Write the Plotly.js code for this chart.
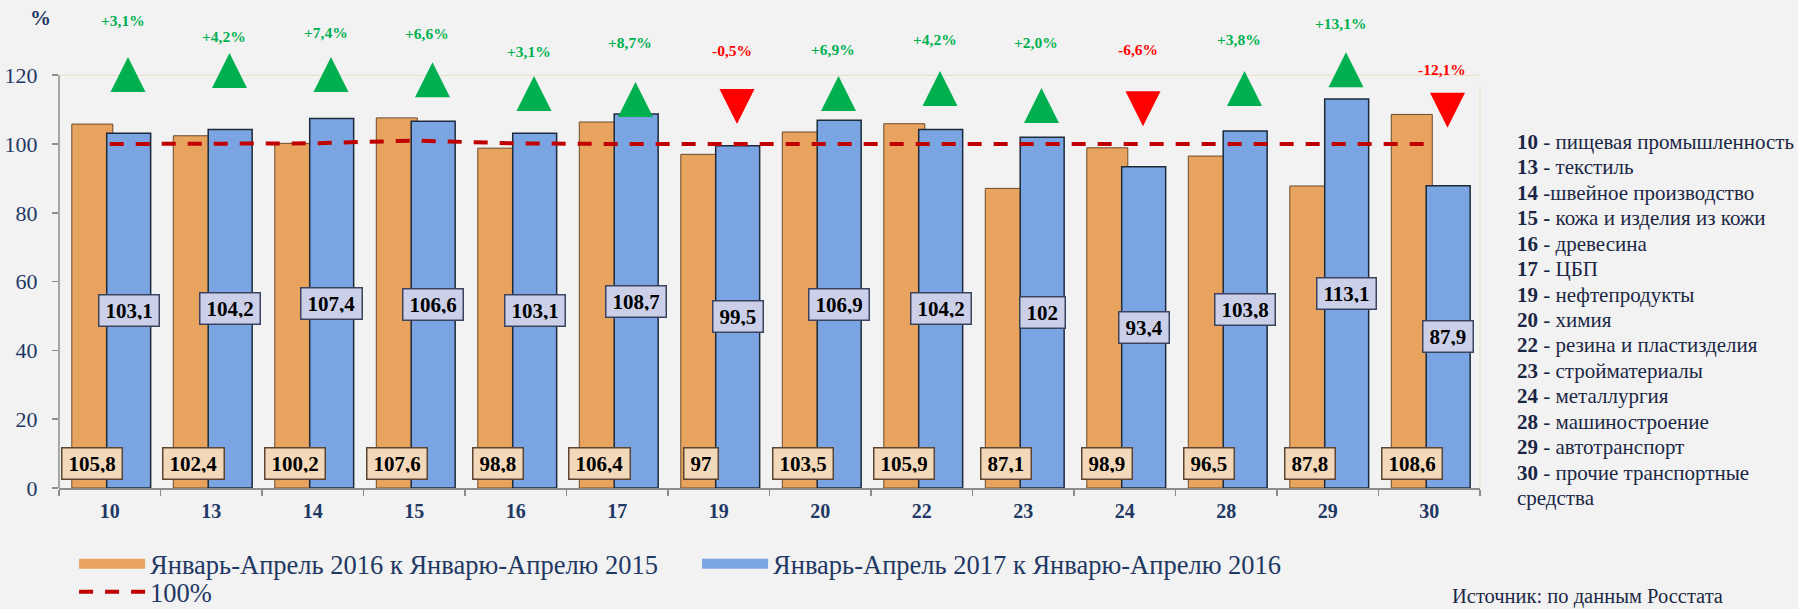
<!DOCTYPE html>
<html>
<head>
<meta charset="utf-8">
<script src="https://cdn.plot.ly/plotly-3.0.1.min.js"></script>
<style>
body{margin:0;background:#f2f2f2;}
#grafica{width:1798px;height:609px;}
</style>
</head>
<body>
<div id="grafica"></div>
<script>
// коды отраслей
const codes = ['10','13','14','15','16','17','19','20','22','23','24','28','29','30'];

// Январь-Апрель 2016 к Январю-Апрелю 2015, %
const y2016 = [105.8,102.4,100.2,107.6,98.8,106.4,97,103.5,105.9,87.1,98.9,96.5,87.8,108.6];

// Январь-Апрель 2017 к Январю-Апрелю 2016, %
const y2017 = [103.1,104.2,107.4,106.6,103.1,108.7,99.5,106.9,104.2,102,93.4,103.8,113.1,87.9];

// изменение, п.п.
const change = [3.1,4.2,7.4,6.6,3.1,8.7,-0.5,6.9,4.2,2.0,-6.6,3.8,13.1,-12.1];

// линия 100%
const base100 = [100,100,100.2,101,100.2,100,100,100,100,100,100,100,100,100];

// уровни стрелок и подписей (как на картинке)
const arrowLevel = [125.3,126.5,125.3,123.8,119.8,118.0,105.8,119.8,121.2,116.3,105.2,121.2,126.7,104.7];
const labelLevel = [136.0,131.3,132.5,132.0,126.8,129.6,127.1,127.6,130.5,129.6,127.6,130.5,134.9,121.7];

const descr = [
    '<b>10</b> - пищевая промышленность',
    '<b>13</b> - текстиль',
    '<b>14</b> -швейное производство',
    '<b>15 -</b> кожа и изделия из кожи',
    '<b>16</b> - древесина',
    '<b>17</b> - ЦБП',
    '<b>19</b> - нефтепродукты',
    '<b>20</b> - химия',
    '<b>22</b> - резина и пластизделия',
    '<b>23</b> - стройматериалы',
    '<b>24</b> - металлургия',
    '<b>28</b> - машиностроение',
    '<b>29</b> - автотранспорт',
    '<b>30</b> - прочие транспортные',
    'средства'
];

const name2016 = 'Январь-Апрель 2016 к Январю-Апрелю 2015';
const name2017 = 'Январь-Апрель 2017 к Январю-Апрелю 2016';

const navy = '#1f3864';
const serif = 'Liberation Serif, Times New Roman, serif';
const orange = '#e8a45e';
const blue = '#7ba4e3';
const axisGrey = '#8c8c8c';

const idx = codes.map((c,i)=>i);
const bounds = codes.map((c,i)=>i-0.5).concat([codes.length-0.5]);

// геометрия столбиков внутри категории
const offO = -0.374, wO = 0.404;
const offB = -0.03, wB = 0.433;

const fmt = v => String(v).replace('.', ',');
const fmtPct = v => (v > 0 ? '+' : '') + v.toFixed(1).replace('.', ',') + '%';

const up = idx.filter(i=>change[i] >= 0);
const down = idx.filter(i=>change[i] < 0);

const traces = [
    {
        type:'bar',
        x: idx,
        y: y2016,
        offset: offO,
        width: wO,
        marker:{color:orange, line:{color:'#6b4a2b', width:1}},
        showlegend:false,
        hoverinfo:'skip'
    },
    {
        type:'bar',
        x: idx,
        y: y2017,
        offset: offB,
        width: wB,
        marker:{color:blue, line:{color:'#1c2a3a', width:1.5}},
        showlegend:false,
        hoverinfo:'skip'
    },
    {
        type:'scatter',
        mode:'lines',
        x: idx,
        y: base100,
        line:{color:'#c00000', width:4, dash:'14px,12px'},
        name:'100%',
        legend:'legend3',
        hoverinfo:'skip'
    },
    {
        type:'scatter',
        mode:'markers',
        x: up.map(i=>i+0.18),
        y: up.map(i=>arrowLevel[i]),
        marker:{symbol:'arrow-up', size:35, color:'#00b050'},
        cliponaxis:false,
        showlegend:false,
        hoverinfo:'skip'
    },
    {
        type:'scatter',
        mode:'markers',
        x: down.map(i=>i+0.18),
        y: down.map(i=>arrowLevel[i]),
        marker:{symbol:'arrow-down', size:35, color:'#ff0000'},
        cliponaxis:false,
        showlegend:false,
        hoverinfo:'skip'
    },
    // образцы для легенды
    {
        type:'scatter', mode:'lines', x:[null], y:[null],
        line:{color:orange, width:10},
        name:name2016, legend:'legend'
    },
    {
        type:'scatter', mode:'lines', x:[null], y:[null],
        line:{color:blue, width:10},
        name:name2017, legend:'legend2'
    }
];

const annotations = [];

idx.forEach(i=>{
    annotations.push({
        x: i + offO + wO/2, y: 7, xref:'x', yref:'y',
        text: fmt(y2016[i]), showarrow:false,
        font:{family:serif, size:21, color:'#000', weight:'bold'},
        bgcolor:'#f3d8ba', bordercolor:'#5a4632', borderwidth:1.5,
        borderpad:6, height:18
    });
    annotations.push({
        x: i + offB + wB/2, y: y2017[i]/2, xref:'x', yref:'y',
        text: fmt(y2017[i]), showarrow:false,
        font:{family:serif, size:21, color:'#000', weight:'bold'},
        bgcolor:'#cbd0e8', bordercolor:'#3a4460', borderwidth:1.5,
        borderpad:6, height:18
    });
    annotations.push({
        x: i + 0.13, y: labelLevel[i], xref:'x', yref:'y',
        text: fmtPct(change[i]), showarrow:false,
        font:{family:serif, size:15.5, color: change[i] >= 0 ? '#00b050' : '#ff0000', weight:'bold'}
    });
});

annotations.push({
    x:-0.013, y:136.6, xref:'paper', yref:'y',
    xanchor:'center', yanchor:'middle',
    text:'%', showarrow:false,
    font:{family:serif, size:21, color:navy, weight:'bold'}
});

// расшифровка кодов справа, по строке
descr.forEach((t,k)=>{
    annotations.push({
        x:1.0246, y:(488 - (142 + 25.43*k))/485, xref:'paper', yref:'paper',
        xanchor:'left', yanchor:'middle', align:'left',
        text:t, showarrow:false,
        font:{family:serif, size:21, color:'#1a2744'}
    });
});

annotations.push({
    x:1.0755, y:-0.2247, xref:'paper', yref:'paper',
    xanchor:'center', yanchor:'middle',
    text:'Источник: по данным Росстата', showarrow:false,
    font:{family:serif, size:20.5, color:'#1a2744'}
});

const legendBase = {
    xref:'container', yref:'container',
    xanchor:'left', yanchor:'middle',
    orientation:'h',
    bgcolor:'rgba(0,0,0,0)',
    itemwidth:66,
    font:{family:serif, size:26.5, color:navy}
};

const layout = {
    width:1798,
    height:609,
    margin:{l:59, r:318, t:3, b:121},
    paper_bgcolor:'#f2f2f2',
    plot_bgcolor:'#f2f2f2',
    barmode:'overlay',
    xaxis:{
        range:[-0.5, codes.length-0.5],
        tickmode:'array',
        tickvals: idx,
        ticktext: codes,
        ticks:'',
        showline:true,
        linecolor:axisGrey,
        linewidth:1.5,
        showgrid:false,
        zeroline:false,
        ticklabelstandoff:4,
        tickfont:{family:serif, size:20, color:navy, weight:'bold'},
        minor:{
            tickmode:'array',
            tickvals: bounds,
            ticks:'outside',
            ticklen:6,
            tickwidth:1.5,
            tickcolor:axisGrey,
            showgrid:false
        }
    },
    yaxis:{
        range:[0,141],
        tickmode:'array',
        tickvals:[0,20,40,60,80,100,120],
        ticks:'outside',
        ticklen:6,
        tickwidth:1.5,
        tickcolor:axisGrey,
        showline:false,
        showgrid:false,
        zeroline:false,
        ticklabelstandoff:10,
        tickfont:{family:serif, size:22, color:navy}
    },
    shapes:[
        {type:'line', xref:'paper', x0:0, x1:1, yref:'y', y0:120, y1:120,
         line:{color:'#ebe5d0', width:1.5}, layer:'below'},
        {type:'line', xref:'paper', x0:1, x1:1, yref:'y', y0:0, y1:117,
         line:{color:'#ebe5d0', width:1.5}, layer:'below'},
        {type:'line', xref:'paper', x0:0, x1:0, yref:'y', y0:0, y1:120,
         line:{color:axisGrey, width:1.5}}
    ],
    legend: Object.assign({}, legendBase, {x:0.0412, y:1-564/609}),
    legend2: Object.assign({}, legendBase, {x:0.3877, y:1-564/609}),
    legend3: Object.assign({}, legendBase, {x:0.0412, y:1-592/609}),
    annotations: annotations
};

Plotly.newPlot('grafica', traces, layout, {displayModeBar:false, staticPlot:true});
</script>
</body>
</html>
